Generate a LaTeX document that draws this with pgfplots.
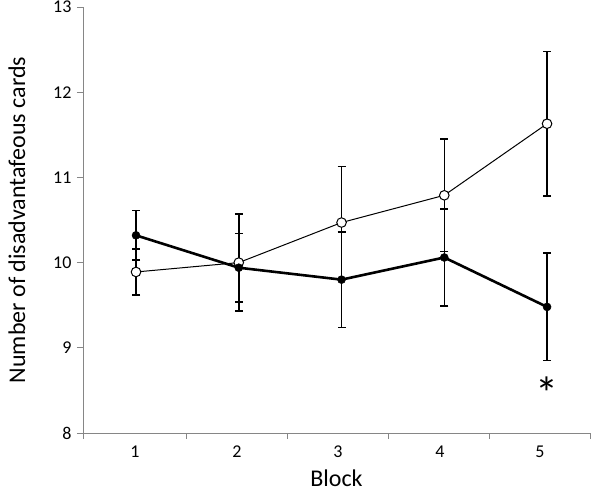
\documentclass[border=0pt]{standalone}
\usepackage{pgfplots}
\pgfplotsset{compat=1.18}
\usepackage{fontspec}
\setmainfont{Carlito}
\definecolor{axgray}{RGB}{134,134,134}
\begin{document}
\begin{tikzpicture}[x=1pt,y=1pt]
\path[use as bounding box] (-83,-59) rectangle (517,433);
\begin{axis}[
  at={(0,0)}, anchor=south west,
  scale only axis, width=507pt, height=426pt,
  xmin=0.484, xmax=5.418, ymin=8, ymax=13,
  axis x line*=bottom, axis y line*=left,
  axis line style={axgray, line width=0.8pt},
  xtick={0.990,1.983,2.966,3.958,4.932},
  xticklabels={1,2,3,4,5},
  minor xtick={0.484,1.486,2.469,3.452,4.435,5.418},
  major x tick style={draw=none},
  minor x tick style={axgray, line width=0.8pt},
  minor tick length=6pt,
  ytick={8,9,10,11,12,13},
  yticklabels={8,9,10,11,12,13},
  y tick style={axgray, line width=0.8pt},
  major tick length=6pt,
  tick align=outside,
  xticklabel style={font=\fontsize{18}{20}\selectfont, yshift=-3pt},
  yticklabel style={font=\fontsize{18}{20}\selectfont, xshift=-2pt},
  /pgf/number format/assume math mode=true,
  xlabel={Block}, ylabel={Number of disadvantafeous cards},
  label style={font=\fontsize{24}{28}\selectfont},
  xlabel style={at={(axis description cs:0.5,0)}, anchor=base, yshift=-54pt},
  ylabel style={at={(axis description cs:0,0.5)}, anchor=center, yshift=66pt},
  clip=false,
]
\addplot[black, line width=1pt, mark=*, mark size=4.8pt,
  mark options={fill=white, draw=black, line width=1pt},
  error bars/.cd, y dir=both, y explicit,
  error bar style={black, line width=1.5pt}, error mark options={rotate=90, mark size=4pt, line width=1.5pt}]
coordinates {
 (1,9.89) +- (0,0.27)
 (2,10.00) +- (0,0.57)
 (3,10.47) +- (0,0.66)
 (4,10.79) +- (0,0.66)
 (5,11.63) +- (0,0.85)
};
\addplot[black, line width=2.6pt, mark=*, mark size=4pt,
  mark options={fill=black, draw=black, line width=0.5pt},
  error bars/.cd, y dir=both, y explicit,
  error bar style={black, line width=1.5pt}, error mark options={rotate=90, mark size=4pt, line width=1.5pt}]
coordinates {
 (1,10.32) +- (0,0.29)
 (2,9.94) +- (0,0.40)
 (3,9.80) +- (0,0.56)
 (4,10.06) +- (0,0.57)
 (5,9.48) +- (0,0.63)
};
\node[font=\fontsize{46}{48}\selectfont, inner sep=0pt] at (axis cs:5,8.47) {*};
\end{axis}
\end{tikzpicture}
\end{document}
